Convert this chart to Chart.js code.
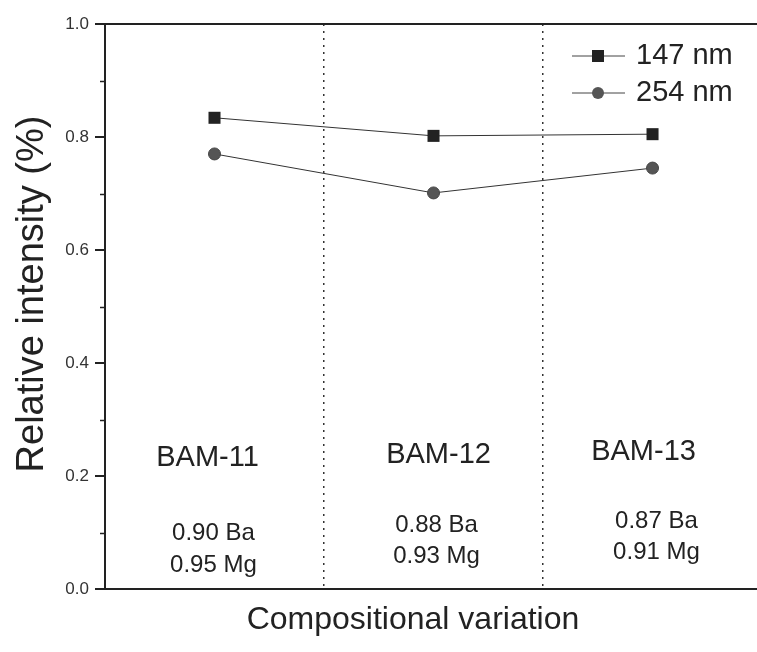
<!DOCTYPE html>
<html>
<head>
<meta charset="utf-8">
<script src="https://cdn.jsdelivr.net/npm/chart.js@4.4.1/dist/chart.umd.min.js"></script>
<style>
  html, body { margin: 0; padding: 0; background: #fff; }
  #wrap { width: 757px; height: 652px; position: relative; }
</style>
</head>
<body>
<div id="wrap"><canvas id="c"></canvas></div>
<script>
// data
const samples = ['BAM-11', 'BAM-12', 'BAM-13'];
const baLabels = ['0.90 Ba', '0.88 Ba', '0.87 Ba'];
const mgLabels = ['0.95 Mg', '0.93 Mg', '0.91 Mg'];
const nm147 = [0.834, 0.802, 0.805];
const nm254 = [0.770, 0.701, 0.745];
const yTicks = [0, 0.2, 0.4, 0.6, 0.8, 1.0];

// where the sample text sits, in axis units
const nameX = [0.968, 2.023, 2.959];
const nameY = [0.232, 0.237, 0.242];
const compX = [0.995, 2.014, 3.018];
const baY = [0.099, 0.113, 0.119];
const mgY = [0.042, 0.057, 0.065];

const FONT = '"Liberation Sans", Arial, sans-serif';

const pts = (arr) => arr.map((v, i) => ({ x: i + 1, y: v }));

const extras = {
  id: 'extras',
  afterDraw(chart) {
    const c = chart.ctx, xs = chart.scales.x, ys = chart.scales.y;
    c.save();
    // minor ticks
    c.strokeStyle = '#222';
    c.lineWidth = 1.5;
    for (let v = 0.1; v < 1; v += 0.2) {
      const py = Math.round(ys.getPixelForValue(v)) + 0.5;
      c.beginPath();
      c.moveTo(xs.left - 5, py);
      c.lineTo(xs.left, py);
      c.stroke();
    }
    // sample labels
    c.fillStyle = '#222';
    c.textAlign = 'center';
    c.textBaseline = 'middle';
    samples.forEach((s, i) => {
      c.font = '29px ' + FONT;
      c.fillText(s, xs.getPixelForValue(nameX[i]), ys.getPixelForValue(nameY[i]));
      c.font = '24px ' + FONT;
      c.fillText(baLabels[i], xs.getPixelForValue(compX[i]), ys.getPixelForValue(baY[i]));
      c.fillText(mgLabels[i], xs.getPixelForValue(compX[i]), ys.getPixelForValue(mgY[i]));
    });
    // legend
    const items = [
      { t: '147 nm', style: 'rect', y: 56 },
      { t: '254 nm', style: 'circle', y: 93 }
    ];
    items.forEach(it => {
      c.strokeStyle = '#444';
      c.lineWidth = 1;
      c.beginPath();
      c.moveTo(572, it.y); c.lineTo(625, it.y);
      c.stroke();
      if (it.style === 'rect') {
        c.fillStyle = '#222';
        c.fillRect(592, it.y - 6, 12, 12);
      } else {
        c.fillStyle = '#555';
        c.beginPath();
        c.arc(598, it.y, 6, 0, Math.PI * 2);
        c.fill();
      }
      c.fillStyle = '#222';
      c.font = '29px ' + FONT;
      c.textAlign = 'left';
      c.fillText(it.t, 636, it.y);
    });
    // axis titles
    c.fillStyle = '#222';
    c.textAlign = 'center';
    c.textBaseline = 'alphabetic';
    c.font = '32px ' + FONT;
    c.fillText('Compositional variation', 413, 629);
    c.translate(43, 294);
    c.rotate(-Math.PI / 2);
    c.font = '38px ' + FONT;
    c.fillText('Relative intensity (%)', 0, 0);
    c.restore();
  }
};

new Chart(document.getElementById('c'), {
  type: 'line',
  data: {
    datasets: [{
      label: '147 nm',
      data: pts(nm147),
      borderColor: '#333',
      borderWidth: 1,
      pointStyle: 'rect',
      pointRadius: 8.5,
      pointBackgroundColor: '#222',
      pointBorderColor: '#222',
      pointBorderWidth: 0
    }, {
      label: '254 nm',
      data: pts(nm254),
      borderColor: '#333',
      borderWidth: 1,
      pointStyle: 'circle',
      pointRadius: 6,
      pointBackgroundColor: '#555',
      pointBorderColor: '#444',
      pointBorderWidth: 1
    }]
  },
  options: {
    responsive: true,
    maintainAspectRatio: false,
    animation: false,
    layout: { autoPadding: false, padding: { top: 24, right: 0, left: 0, bottom: 0 } },
    plugins: { legend: { display: false }, tooltip: { enabled: false } },
    scales: {
      x: {
        type: 'linear',
        min: 0.5,
        max: 3.477,
        afterBuildTicks: (s) => { s.ticks = [{ value: 1.5 }, { value: 2.5 }]; },
        afterFit: (s) => { s.height = 63; },
        ticks: { display: false },
        grid: { color: '#333', lineWidth: 1.5, drawTicks: false, tickLength: 0 },
        border: { display: true, color: '#222', width: 2, dash: [2, 5] }
      },
      y: {
        min: 0,
        max: 1,
        afterBuildTicks: (s) => { s.ticks = yTicks.map(v => ({ value: v })); },
        afterFit: (s) => { s.width = 105; },
        ticks: {
          color: '#333',
          font: { family: FONT, size: 17 },
          padding: 6,
          callback: (v) => v.toFixed(1)
        },
        grid: {
          color: (ctx) => (ctx.tick && ctx.tick.value === 1) ? '#222' : 'rgba(0,0,0,0)',
          lineWidth: 2,
          tickColor: '#222',
          tickLength: 10
        },
        border: { display: true, color: '#222', width: 2 }
      }
    }
  },
  plugins: [extras]
});
</script>
</body>
</html>
